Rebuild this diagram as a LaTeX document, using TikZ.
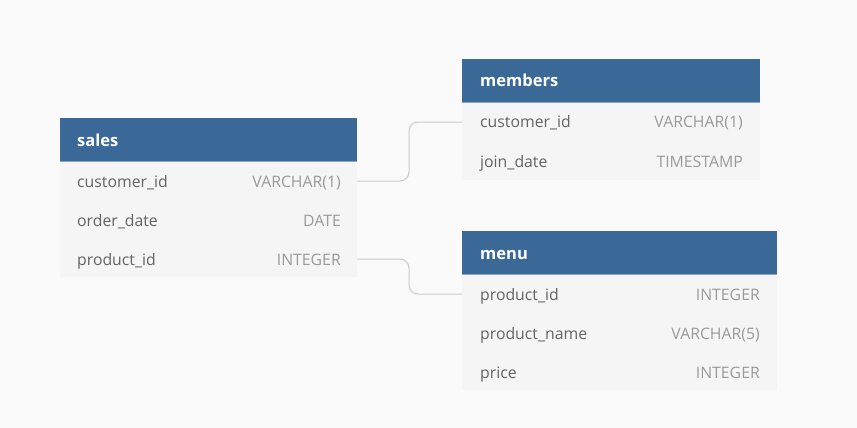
\documentclass[tikz,border=0pt]{standalone}
\usepackage{fontspec}
\setmainfont{Open Sans}
\definecolor{canvas}{HTML}{FAFAFA}
\definecolor{headbg}{HTML}{3B6997}
\definecolor{rowbg}{HTML}{F5F5F5}
\definecolor{fieldtxt}{HTML}{646464}
\definecolor{typetxt}{HTML}{9A9A9A}
\definecolor{linkclr}{HTML}{CCCCCC}
\tikzset{
  header/.style={fill=headbg, draw=none},
  rows/.style={fill=rowbg, draw=none},
  title/.style={anchor=base west, inner sep=0pt, text=white, font=\fontsize{16.5}{19}\selectfont\bfseries},
  field/.style={anchor=base west, inner sep=0pt, text=fieldtxt, font=\fontsize{15.8}{18}\selectfont},
  ftype/.style={anchor=base east, inner sep=0pt, text=typetxt, font=\fontsize{15.8}{18}\selectfont},
  link/.style={draw=linkclr, line width=1pt, rounded corners=9pt}
}
\begin{document}
\begin{tikzpicture}[x=1pt,y=-1pt]
\fill[canvas] (0,0) rectangle (857,428);
\useasboundingbox (0,0) rectangle (857,428);

% sales
\fill[rows] (60,161) rectangle (357,277);
\fill[header] (60,118) rectangle (357,161);
\draw[headbg!60!white, line width=0.6pt] (60,161) -- (357,161);
\node[title] (salesT) at (77,146) {sales};
\node[field] (s1) at (77,187) {customer\_id};
\node[ftype] (s1t) at (341,187) {VARCHAR(1)};
\node[field] (s2) at (77,226) {order\_date};
\node[ftype] (s2t) at (341,226) {DATE};
\node[field] (s3) at (77,265) {product\_id};
\node[ftype] (s3t) at (341,265) {INTEGER};
\coordinate (s1r) at (357,181);
\coordinate (s3r) at (357,259);

% members
\fill[rows] (462,102) rectangle (760,180);
\fill[header] (462,59) rectangle (760,102);
\draw[headbg!60!white, line width=0.6pt] (462,102) -- (760,102);
\node[title] (memT) at (480,87) {members};
\node[field] (m1) at (480,128) {customer\_id};
\node[ftype] (m1t) at (743,128) {VARCHAR(1)};
\node[field] (m2) at (480,167) {join\_date};
\node[ftype] (m2t) at (743,167) {TIMESTAMP};
\coordinate (m1l) at (462,122);

% menu
\fill[rows] (462,274) rectangle (777,390);
\fill[header] (462,231) rectangle (777,274);
\draw[headbg!60!white, line width=0.6pt] (462,274) -- (777,274);
\node[title] (menuT) at (480,259) {menu};
\node[field] (n1) at (480,300) {product\_id};
\node[ftype] (n1t) at (760,300) {INTEGER};
\node[field] (n2) at (480,339) {product\_name};
\node[ftype] (n2t) at (760,339) {VARCHAR(5)};
\node[field] (n3) at (480,378) {price};
\node[ftype] (n3t) at (760,378) {INTEGER};
\coordinate (n1l) at (462,294);

% relationships
\draw[link] (s1r) -- (409,181) -- (409,122) -- (m1l);
\draw[link] (s3r) -- (409,259) -- (409,294) -- (n1l);
\end{tikzpicture}
\end{document}
